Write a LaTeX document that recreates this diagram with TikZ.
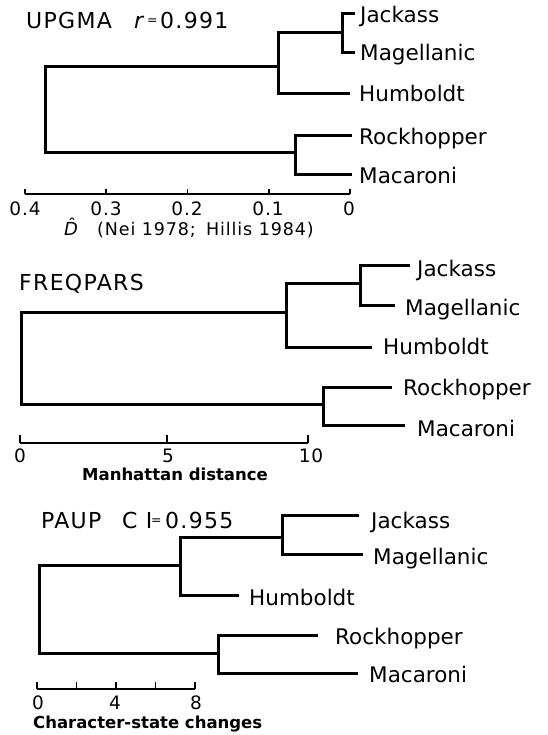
\documentclass[tikz,border=0pt]{standalone}
\usepackage{fontspec}
\setmainfont{DejaVu Sans}
\newfontfamily\ttlf{DejaVu Sans}[LetterSpace=6]
\newfontfamily\axf{DejaVu Sans}[LetterSpace=5]
\begin{document}
\begin{tikzpicture}[x=1pt,y=-1pt,
  br/.style={line width=3pt, line join=miter},
  ax/.style={line width=1.8pt},
  tk/.style={line width=1.6pt},
  leaf/.style={anchor=west, inner sep=0pt, font=\fontsize{21.5}{24}\selectfont, text height=15.7pt, text depth=0pt},
  ttl/.style={anchor=west, inner sep=0pt, font=\ttlf\fontsize{22}{24}\selectfont, text height=16pt, text depth=0pt},
  eqs/.style={anchor=base west, inner sep=0pt, font=\fontsize{12.5}{14}\selectfont},
  num/.style={inner sep=0pt, font=\axf\fontsize{18.5}{20}\selectfont, text height=13.5pt, text depth=0pt},
  axcap/.style={inner sep=0pt, font=\bfseries\fontsize{16.5}{20}\selectfont, text height=12pt, text depth=0pt}]
\useasboundingbox (0,0) rectangle (547,735);
\fill[white] (0,0) rectangle (547,735);

% ---------------- UPGMA ----------------
\node[ttl] (uT1) at (26,21) {UPGMA};
\node[ttl] (uT2) at (134,21) {\itshape r};
\node[eqs] (uT3) at (147,25) {=};
\node[ttl] (uT4) at (160,21) {0.991};

\coordinate (uR1) at (45,67);  \coordinate (uR2) at (45,153);
\coordinate (uA) at (278,67);  \coordinate (uA1) at (278,33); \coordinate (uA2) at (278,94);
\coordinate (uB) at (342,33);  \coordinate (uB1) at (342,14); \coordinate (uB2) at (342,53);
\coordinate (uC) at (295,153); \coordinate (uC1) at (295,136); \coordinate (uC2) at (295,175);
\coordinate (uJ) at (355,14); \coordinate (uM) at (355,53); \coordinate (uH) at (350,94);
\coordinate (uRk) at (352,136); \coordinate (uMc) at (352,175);
\draw[br] (uA) -- (uR1) -- (uR2) -- (uC);
\draw[br] (uB) -- (uA1) -- (uA2) -- (uH);
\draw[br] (uJ) -- (uB1) -- (uB2) -- (uM);
\draw[br] (uRk) -- (uC1) -- (uC2) -- (uMc);
\node[leaf] (uJl) at (360,15) {Jackass};
\node[leaf] (uMl) at (360,53) {Magellanic};
\node[leaf] (uHl) at (359,94) {Humboldt};
\node[leaf] (uRl) at (359,137) {Rockhopper};
\node[leaf] (uMcl) at (359,176) {Macaroni};

\coordinate (ua0) at (25,194); \coordinate (ua1) at (106.25,194); \coordinate (ua2) at (187.5,194);
\coordinate (ua3) at (268.75,194); \coordinate (ua4) at (350,194);
\draw[ax] (ua0) -- (ua4);
\foreach \t in {ua0,ua1,ua2,ua3,ua4} \draw[tk] (\t) -- ++(0,-5);
\node[num] (ul0) at (25,209) {0.4};
\node[num] (ul1) at (106,209) {0.3};
\node[num] (ul2) at (187,209) {0.2};
\node[num] (ul3) at (268,209) {0.1};
\node[num] (ul4) at (349,209) {0};
\node[inner sep=0pt, anchor=base, font=\fontsize{18}{20}\selectfont\itshape] (uD) at (71,235) {D^^^^0302};
\node[inner sep=0pt, anchor=base west, font=\axf\fontsize{17.5}{20}\selectfont] (uCap) at (97,235) {(Nei 1978;\hspace{0.6em}Hillis 1984)};

% ---------------- FREQPARS ----------------
\node[ttl] (fT) at (19,282) {FREQPARS};
\coordinate (fR1) at (21,312);  \coordinate (fR2) at (21,404);
\coordinate (fA) at (286,312);  \coordinate (fA1) at (286,283); \coordinate (fA2) at (286,347);
\coordinate (fB) at (360,283);  \coordinate (fB1) at (360,265); \coordinate (fB2) at (360,305);
\coordinate (fC) at (323,404);  \coordinate (fC1) at (323,387); \coordinate (fC2) at (323,425);
\coordinate (fJ) at (410,265); \coordinate (fM) at (395,305); \coordinate (fH) at (372,347);
\coordinate (fRk) at (392,387); \coordinate (fMc) at (405,425);
\draw[br] (fA) -- (fR1) -- (fR2) -- (fC);
\draw[br] (fB) -- (fA1) -- (fA2) -- (fH);
\draw[br] (fJ) -- (fB1) -- (fB2) -- (fM);
\draw[br] (fRk) -- (fC1) -- (fC2) -- (fMc);
\node[leaf] (fJl) at (417,269) {Jackass};
\node[leaf] (fMl) at (405,308) {Magellanic};
\node[leaf] (fHl) at (383,347) {Humboldt};
\node[leaf] (fRl) at (403,388) {Rockhopper};
\node[leaf] (fMcl) at (417,429) {Macaroni};

\coordinate (fa0) at (20,443); \coordinate (fa1) at (167,443); \coordinate (fa2) at (308,443);
\draw[ax] (fa0) -- (fa2);
\foreach \t in {fa0,fa1,fa2} \draw[tk] (\t) -- ++(0,-8);
\node[num] (fl0) at (20,456) {0};
\node[num] (fl1) at (168,456) {5};
\node[num] (fl2) at (311,456) {10};
\node[axcap] (fCap) at (175,474) {Manhattan distance};

% ---------------- PAUP ----------------
\node[ttl] (pT1) at (41,520) {PAUP};
\node[ttl] (pT2) at (122,520) {C I};
\node[eqs] (pT3) at (151,524) {=};
\node[ttl] (pT4) at (165,520) {0.955};
\coordinate (pR1) at (39,565);  \coordinate (pR2) at (39,653);
\coordinate (pA) at (180,565);  \coordinate (pA1) at (180,537); \coordinate (pA2) at (180,595);
\coordinate (pB) at (282,537);  \coordinate (pB1) at (282,515); \coordinate (pB2) at (282,554);
\coordinate (pC) at (218,653);  \coordinate (pC1) at (218,635); \coordinate (pC2) at (218,673);
\coordinate (pJ) at (359,515); \coordinate (pM) at (363,554); \coordinate (pH) at (239,595);
\coordinate (pRk) at (318,635); \coordinate (pMc) at (358,673);
\draw[br] (pA) -- (pR1) -- (pR2) -- (pC);
\draw[br] (pB) -- (pA1) -- (pA2) -- (pH);
\draw[br] (pJ) -- (pB1) -- (pB2) -- (pM);
\draw[br] (pRk) -- (pC1) -- (pC2) -- (pMc);
\node[leaf] (pJl) at (371,521) {Jackass};
\node[leaf] (pMl) at (373,557) {Magellanic};
\node[leaf] (pHl) at (249,598) {Humboldt};
\node[leaf] (pRl) at (335,637) {Rockhopper};
\node[leaf] (pMcl) at (369,675) {Macaroni};

\coordinate (pa0) at (37,689); \coordinate (pa1) at (76.5,689); \coordinate (pa2) at (116,689);
\coordinate (pa3) at (155.5,689); \coordinate (pa4) at (195,689);
\draw[ax] (pa0) -- (pa4);
\foreach \t in {pa0,pa1,pa2,pa3,pa4} \draw[tk] (\t) -- ++(0,-7);
\node[num] (pl0) at (38,703) {0};
\node[num] (pl1) at (115,703) {4};
\node[num] (pl2) at (196,703) {8};
\node[axcap, anchor=west] (pCap) at (33,722) {Character-state changes};
\end{tikzpicture}
\end{document}
